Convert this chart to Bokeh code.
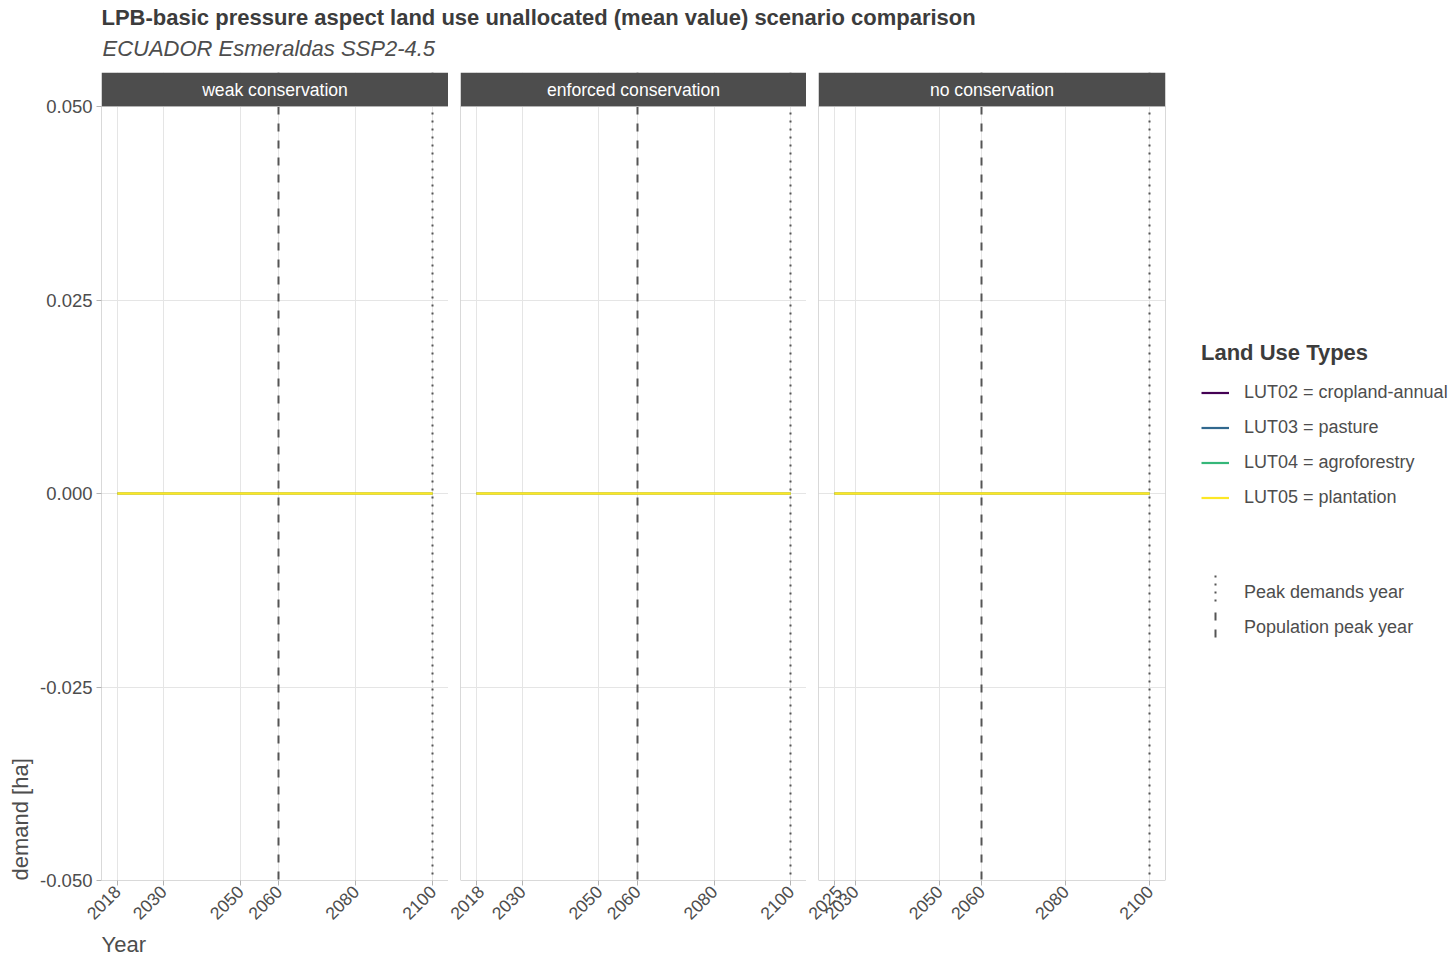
from math import pi
from bokeh.plotting import figure
from bokeh.models import (Range1d, FixedTicker, NumeralTickFormatter, Label, Title,
                          Legend, LegendItem, BoxAnnotation)
from bokeh.layouts import row, column
from bokeh.embed import file_html
from bokeh.resources import INLINE

FONT = "Liberation Sans"

# ---------------- data ----------------
scenarios = ["weak conservation", "enforced conservation", "no conservation"]

years_weak = [2018, 2030, 2050, 2060, 2080, 2100]
years_enforced = [2018, 2030, 2050, 2060, 2080, 2100]
years_none = [2025, 2030, 2050, 2060, 2080, 2100]

lut_labels = ["LUT02 = cropland-annual", "LUT03 = pasture",
              "LUT04 = agroforestry", "LUT05 = plantation"]
lut_colors = ["#440154", "#31688E", "#35B779", "#FDE725"]

# unallocated demand [ha] per land use type (all zero)
lut02_weak = [0.0, 0.0, 0.0, 0.0, 0.0, 0.0]
lut03_weak = [0.0, 0.0, 0.0, 0.0, 0.0, 0.0]
lut04_weak = [0.0, 0.0, 0.0, 0.0, 0.0, 0.0]
lut05_weak = [0.0, 0.0, 0.0, 0.0, 0.0, 0.0]

lut02_enforced = [0.0, 0.0, 0.0, 0.0, 0.0, 0.0]
lut03_enforced = [0.0, 0.0, 0.0, 0.0, 0.0, 0.0]
lut04_enforced = [0.0, 0.0, 0.0, 0.0, 0.0, 0.0]
lut05_enforced = [0.0, 0.0, 0.0, 0.0, 0.0, 0.0]

lut02_none = [0.0, 0.0, 0.0, 0.0, 0.0, 0.0]
lut03_none = [0.0, 0.0, 0.0, 0.0, 0.0, 0.0]
lut04_none = [0.0, 0.0, 0.0, 0.0, 0.0, 0.0]
lut05_none = [0.0, 0.0, 0.0, 0.0, 0.0, 0.0]

population_peak_year = [2060, 2060, 2060]
peak_demands_year = [2100, 2100, 2100]
vline_labels = ["Peak demands year", "Population peak year"]

x_ticks_weak = [2018, 2030, 2050, 2060, 2080, 2100]
x_ticks_enforced = [2018, 2030, 2050, 2060, 2080, 2100]
x_ticks_none = [2025, 2030, 2050, 2060, 2080, 2100]
y_ticks = [-0.05, -0.025, 0.0, 0.025, 0.05]
y_limits = [-0.05, 0.05]

title_text = "LPB-basic pressure aspect land use unallocated (mean value) scenario comparison"
subtitle_text = "ECUADOR Esmeraldas SSP2-4.5"

# ---------------- style ----------------
TXT = "#4d4d4d"
BORDER = "#b3b3b3"
GRID = "#e5e5e5"
VLINE = "#555555"
STRIP = "#4d4d4d"
PANEL_H = 774
STRIP_H = 34
BOTTOM = 79
TICK_FS = "17.6px"
DASHED = "8 9"
DOTTED = "2 6"


def make_panel(idx, years, series, ticks, fw, left, right, first):
    pad = 0.05 * (max(years) - min(years))
    x0, x1 = min(years) - pad, max(years) + pad
    y0, y1 = y_limits
    # frame also holds the facet strip above the panel
    y_strip_top = y1 + (y1 - y0) * STRIP_H / PANEL_H
    p = figure(frame_width=fw, frame_height=PANEL_H + STRIP_H,
               x_range=Range1d(x0, x1), y_range=Range1d(y0, y_strip_top),
               y_axis_location="left" if first else None,
               toolbar_location=None, output_backend="svg",
               min_border_left=left, min_border_right=right,
               min_border_top=0, min_border_bottom=BOTTOM,
               background_fill_color="white", border_fill_color="white")
    p.outline_line_color = None

    p.xaxis.ticker = FixedTicker(ticks=ticks)
    p.xaxis.axis_line_color = None
    p.xaxis.major_tick_line_color = BORDER
    p.xaxis.major_tick_out = 5
    p.xaxis.major_tick_in = 0
    p.xaxis.minor_tick_line_color = None
    p.xaxis.major_label_orientation = pi / 4
    p.xaxis.major_label_text_font = FONT
    p.xaxis.major_label_text_font_size = TICK_FS
    p.xaxis.major_label_text_color = TXT
    p.xaxis.major_label_standoff = 3
    p.xgrid.grid_line_color = GRID
    p.xgrid.ticker = FixedTicker(ticks=ticks)

    if first:
        p.yaxis.ticker = FixedTicker(ticks=y_ticks)
        p.yaxis.formatter = NumeralTickFormatter(format="0.000")
        p.yaxis.axis_line_color = None
        p.yaxis.major_tick_line_color = BORDER
        p.yaxis.major_tick_out = 5
        p.yaxis.major_tick_in = 0
        p.yaxis.minor_tick_line_color = None
        p.yaxis.major_label_text_font = FONT
        p.yaxis.major_label_text_font_size = "18.5px"
        p.yaxis.major_label_text_color = TXT
        p.yaxis.major_label_standoff = 4
    for g in p.ygrid:
        g.ticker = FixedTicker(ticks=y_ticks)
        if g.axis is not None:
            g.axis.ticker = FixedTicker(ticks=y_ticks)
        g.grid_line_color = GRID

    for k, (vals, color) in enumerate(zip(series, lut_colors)):
        p.line(x=years, y=vals, line_color=color,
               line_width=2.6 if k == len(series) - 1 else 1.6)

    p.vspan(x=[population_peak_year[idx]], line_color=VLINE, line_width=2, line_dash=DASHED)
    p.vspan(x=[peak_demands_year[idx]], line_color=VLINE, line_width=2, line_dash=DOTTED)

    # facet strip
    p.quad(left=[x0], right=[x1], bottom=[y1], top=[y_strip_top],
           fill_color=STRIP, line_color=None)
    p.add_layout(Label(x=(x0 + x1) / 2, y=(y1 + y_strip_top) / 2, text=scenarios[idx],
                       text_align="center", text_baseline="middle", text_color="white",
                       text_font_size="17.6px", text_font=FONT))
    # panel border
    p.add_layout(BoxAnnotation(left=x0, right=x1, bottom=y0, top=y1, fill_alpha=0,
                               line_color=BORDER, line_width=1, line_alpha=1))

    if first:
        p.add_layout(Title(text="Year", align="left", text_font=FONT, text_font_size="22px",
                           text_font_style="normal", text_color=TXT, standoff=2), "below")
        p.add_layout(Title(text="demand [ha]", align="left", text_font=FONT,
                           text_font_size="22px", text_font_style="normal",
                           text_color=TXT), "left")
    return p


p1 = make_panel(0, years_weak, [lut02_weak, lut03_weak, lut04_weak, lut05_weak],
                x_ticks_weak, 347, 101, 0, True)
p2 = make_panel(1, years_enforced,
                [lut02_enforced, lut03_enforced, lut04_enforced, lut05_enforced],
                x_ticks_enforced, 346, 12, 0, False)
p3 = make_panel(2, years_none, [lut02_none, lut03_none, lut04_none, lut05_none],
                x_ticks_none, 347, 12, 6, False)

# ---------------- header ----------------
hdr = figure(width=1452, height=72, x_range=Range1d(0, 1452), y_range=Range1d(72, 0),
             x_axis_type=None, y_axis_type=None, min_border=0, outline_line_color=None,
             toolbar_location=None, output_backend="svg")
hdr.add_layout(Label(x=101, y=17, text=title_text, text_font=FONT, text_font_size="22px",
                     text_font_style="bold", text_color="#3c3c3c", text_baseline="middle"))
hdr.add_layout(Label(x=102, y=48, text=subtitle_text, text_font=FONT, text_font_size="22px",
                     text_font_style="italic", text_color=TXT, text_baseline="middle"))

# ---------------- legend ----------------
LG_W = 281
LG_FH = PANEL_H + STRIP_H
lg = figure(frame_width=LG_W, frame_height=LG_FH, x_range=Range1d(0, 1), y_range=Range1d(0.5, 1),
            x_axis_type=None, y_axis_type=None, min_border_left=0, min_border_right=0,
            min_border_top=0, min_border_bottom=BOTTOM, outline_line_color=None,
            toolbar_location=None, output_backend="svg")
# pixel coordinate system (from the top of the frame) for the vertical legend keys
lg.extra_x_ranges = {"px": Range1d(0, LG_W)}
lg.extra_y_ranges = {"px": Range1d(LG_FH, 0)}

# legend keys reuse the series, drawn outside this figure's visible range
lut_keys = [lg.line(x=years_weak, y=vals, line_color=c, line_width=2.2)
            for vals, c in zip([lut02_weak, lut03_weak, lut04_weak, lut05_weak], lut_colors)]
peak_key = lg.vspan(x=[peak_demands_year[0]], line_alpha=0)
pop_key = lg.vspan(x=[population_peak_year[0]], line_alpha=0)

# vertical key symbols (like ggplot's vline key)
lg.segment(x0=[44], x1=[44], y0=[503], y1=[531], line_color=VLINE, line_width=2,
           line_dash=DOTTED, x_range_name="px", y_range_name="px")
lg.segment(x0=[44], x1=[44], y0=[540], y1=[570], line_color=VLINE, line_width=2,
           line_dash=DASHED, x_range_name="px", y_range_name="px")

common = dict(orientation="vertical", glyph_width=28, glyph_height=35, label_height=35,
              spacing=0, padding=0, margin=0, label_standoff=15, border_line_color=None,
              background_fill_alpha=0, label_text_font=FONT, label_text_font_size="18px",
              label_text_color=TXT)

leg1 = Legend(items=[LegendItem(label=l, renderers=[r]) for l, r in zip(lut_labels, lut_keys)],
              title="Land Use Types", title_text_font=FONT, title_text_font_size="22px",
              title_text_font_style="bold", title_text_color="#3c3c3c", title_standoff=9,
              location=(30, 365), **common)
leg2 = Legend(items=[LegendItem(label=vline_labels[0], renderers=[peak_key]),
                     LegendItem(label=vline_labels[1], renderers=[pop_key])],
              location=(30, 235), **common)
lg.add_layout(leg1)
lg.add_layout(leg2)

layout = column(hdr, row(p1, p2, p3, lg))

with open("out.html", "w") as f:
    f.write(file_html(layout, INLINE))
